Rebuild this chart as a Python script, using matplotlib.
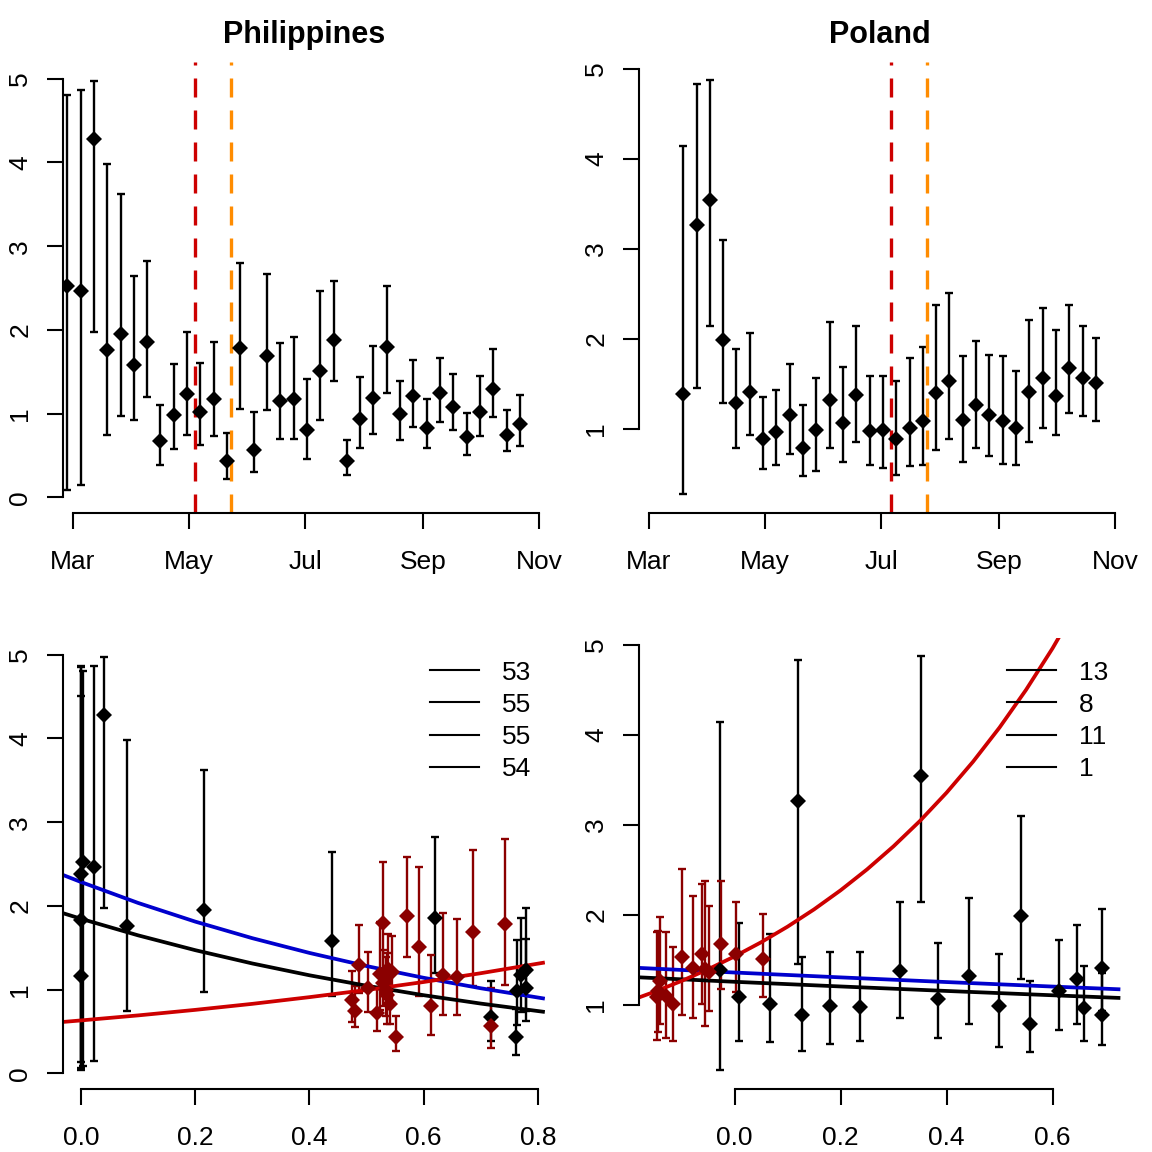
import numpy as np
import pandas as pd
import matplotlib
matplotlib.use("Agg")
import matplotlib.pyplot as plt
import matplotlib.dates as mdates
from matplotlib.lines import Line2D

plt.rcParams['font.family'] = ['Liberation Sans', 'DejaVu Sans']

# ---- Philippines: weekly estimates (first three weeks fall left of the window)
ph_weeks = pd.date_range("2020-02-06", periods=38, freq="7D")
ph_r = [1.16, 1.83, 2.38,
        2.53, 2.46, 4.28, 1.76, 1.95, 1.58, 1.86, 0.67, 0.98, 1.23,
        1.02, 1.17, 0.44, 1.78, 0.57, 1.69, 1.15, 1.17, 0.80, 1.51,
        1.88, 0.43, 0.94, 1.19, 1.80, 1.00, 1.21, 0.83, 1.25, 1.08,
        0.72, 1.02, 1.30, 0.75, 0.88]
ph_lo = [0.06, 0.14, 0.04,
         0.09, 0.15, 1.97, 0.75, 0.97, 0.92, 1.20, 0.39, 0.58, 0.75,
         0.63, 0.73, 0.22, 1.06, 0.30, 1.04, 0.70, 0.70, 0.46, 0.92,
         1.39, 0.27, 0.59, 0.76, 1.25, 0.68, 0.84, 0.59, 0.90, 0.80,
         0.51, 0.73, 0.96, 0.55, 0.62]
ph_hi = [4.85, 4.51, 4.87,
         4.80, 4.87, 4.97, 3.98, 3.62, 2.65, 2.82, 1.10, 1.59, 1.97,
         1.61, 1.86, 0.77, 2.80, 1.02, 2.67, 1.84, 1.91, 1.41, 2.47,
         2.58, 0.69, 1.44, 1.81, 2.53, 1.39, 1.64, 1.17, 1.67, 1.47,
         1.01, 1.45, 1.77, 1.04, 1.22]
ph_mob = [0.0, 0.0, 0.0,
          0.004, 0.022, 0.041, 0.080, 0.215, 0.439, 0.620, 0.717, 0.764, 0.779,
          0.779, 0.771, 0.762, 0.742, 0.717, 0.687, 0.658, 0.634, 0.613, 0.592,
          0.570, 0.551, 0.536, 0.523, 0.529, 0.534, 0.544, 0.541, 0.538, 0.528,
          0.519, 0.502, 0.487, 0.480, 0.474]
ph_red_date = "2020-05-04"
ph_orange_date = "2020-05-23"
ph_legend = ["53", "55", "55", "54"]

ph_fit_x = [-0.033, 0.0, 0.1, 0.2, 0.3, 0.4, 0.5, 0.6, 0.7, 0.812]
ph_fit_black = [1.917, 1.847, 1.649, 1.472, 1.313, 1.172, 1.047, 0.934, 0.834, 0.734]
ph_fit_blue = [2.374, 2.286, 2.036, 1.813, 1.615, 1.439, 1.282, 1.142, 1.017, 0.893]
ph_fit_red = [0.614, 0.633, 0.693, 0.759, 0.831, 0.911, 0.997, 1.092, 1.197, 1.325]

# ---- Poland
pl_weeks = pd.date_range("2020-03-19", periods=32, freq="7D")
pl_r = [1.38, 3.26, 3.54, 1.99, 1.29, 1.41, 0.89, 0.96, 1.15, 0.79, 0.98,
        1.32, 1.06, 1.37, 0.97, 0.98, 0.88, 1.01, 1.09, 1.40, 1.53, 1.10,
        1.26, 1.15, 1.09, 1.01, 1.41, 1.56, 1.36, 1.67, 1.56, 1.51]
pl_lo = [0.27, 1.45, 2.14, 1.29, 0.79, 0.93, 0.55, 0.59, 0.72, 0.47, 0.53,
         0.79, 0.63, 0.85, 0.59, 0.56, 0.48, 0.58, 0.59, 0.76, 0.89, 0.63,
         0.79, 0.69, 0.61, 0.59, 0.85, 1.01, 0.93, 1.17, 1.14, 1.09]
pl_hi = [4.14, 4.83, 4.88, 3.10, 1.89, 2.06, 1.35, 1.43, 1.72, 1.26, 1.56,
         2.19, 1.69, 2.14, 1.58, 1.59, 1.53, 1.78, 1.91, 2.37, 2.51, 1.81,
         1.98, 1.82, 1.81, 1.64, 2.21, 2.34, 2.10, 2.38, 2.14, 2.01]
pl_mob = [-0.027, 0.120, 0.351, 0.541, 0.646, 0.694, 0.694, 0.660, 0.613, 0.558,
          0.499, 0.442, 0.383, 0.312, 0.236, 0.180, 0.128, 0.067, 0.009, -0.055,
          -0.099, -0.130, -0.141, -0.145, -0.147, -0.117, -0.078, -0.061, -0.048,
          -0.025, 0.002, 0.053]
pl_red_date = "2020-07-06"
pl_orange_date = "2020-07-25"
pl_legend = ["13", "8", "11", "1"]

pl_fit_x = [-0.182, 0.0, 0.2, 0.4, 0.6, 0.728]
pl_fit_black = [1.304, 1.254, 1.202, 1.152, 1.104, 1.074]
pl_fit_blue = [1.409, 1.357, 1.303, 1.251, 1.201, 1.170]
pl_red_x = [-0.182, -0.15, -0.10, -0.05, 0.0, 0.05, 0.10, 0.15, 0.20, 0.25,
            0.30, 0.35, 0.40, 0.45, 0.50, 0.55, 0.60, 0.65]
pl_fit_red = [1.076, 1.145, 1.263, 1.393, 1.536, 1.693, 1.867, 2.059, 2.271,
              2.504, 2.761, 3.044, 3.357, 3.702, 4.082, 4.501, 4.963, 5.473]

month_ticks = ["2020-03-01", "2020-05-01", "2020-07-01", "2020-09-01", "2020-11-01"]
month_labels = ["Mar", "May", "Jul", "Sep", "Nov"]

BLACK = "black"
DARKRED = "#8B0000"
RED = "#CD0000"
ORANGE = "#FF8C00"
BLUE = "#0000CD"

W = 1152.0
fig = plt.figure(figsize=(11.52, 11.52), dpi=100)


def place(l, t, r, b):
    return fig.add_axes([l / W, 1 - b / W, (r - l) / W, (b - t) / W])


def style(ax, yticks, xbounds):
    for s in ["top", "right"]:
        ax.spines[s].set_visible(False)
    for s in ["left", "bottom"]:
        ax.spines[s].set_linewidth(1.5)
    ax.spines["left"].set_bounds(yticks[0], yticks[-1])
    ax.spines["bottom"].set_bounds(*xbounds)
    ax.set_yticks(yticks, [str(v) for v in yticks], rotation=90, va="center")
    ax.tick_params(axis="both", direction="out", length=11.5, width=1.5,
                   labelsize=19)
    ax.tick_params(axis="y", pad=10.4)
    ax.tick_params(axis="x", pad=15.5)


def errs(ax, x, r, lo, hi, color):
    r = np.asarray(r)
    yerr = [r - np.asarray(lo), np.asarray(hi) - r]
    line, caps, bars = ax.errorbar(x, r, yerr=yerr, fmt="D", color=color,
                                   ms=8.2, elinewidth=1.7, capsize=2.7,
                                   capthick=1.7)
    line.set_markeredgewidth(0)


def time_panel(ax, weeks, r, lo, hi, red_date, orange_date, title, ylim, yticks):
    errs(ax, weeks, r, lo, hi, BLACK)
    ax.axvline(pd.Timestamp(red_date), color=RED, lw=2.4,
               linestyle=(0, (5.7, 3.9)))
    ax.axvline(pd.Timestamp(orange_date), color=ORANGE, lw=2.4,
               linestyle=(0, (5.7, 3.9)))
    t0 = pd.Timestamp("2020-03-01")
    ax.set_xlim(t0 - pd.Timedelta(days=5.42), t0 + pd.Timedelta(days=248.2))
    ax.set_ylim(*ylim)
    ticks = [pd.Timestamp(m) for m in month_ticks]
    style(ax, yticks, (mdates.date2num(ticks[0]), mdates.date2num(ticks[-1])))
    ax.set_xticks(ticks, month_labels)
    ax.set_title(title, fontsize=22, fontweight="bold", pad=13.5)


def mob_panel(ax, weeks, r, lo, hi, mob, orange_date, fits, xlim, ylim,
              xticks, yticks, labels, leg_xy):
    r, lo, hi, mob = map(np.asarray, (r, lo, hi, mob))
    before = np.asarray(weeks) < pd.Timestamp(orange_date)
    errs(ax, mob[before], r[before], lo[before], hi[before], BLACK)
    errs(ax, mob[~before], r[~before], lo[~before], hi[~before], DARKRED)
    for fx, fy, c in fits:
        ax.plot(fx, fy, color=c, lw=2.7, solid_capstyle="butt")
    ax.set_xlim(*xlim)
    ax.set_ylim(*ylim)
    style(ax, yticks, (xticks[0], xticks[-1]))
    ax.set_xticks(xticks, [f"{v:.1f}" for v in xticks])
    handles = [Line2D([], [], color="black", lw=1.5) for _ in labels]
    ax.legend(handles, labels, loc="upper left", frameon=False, fontsize=19,
              bbox_to_anchor=(leg_xy[0] / W, 1 - leg_xy[1] / W),
              bbox_transform=fig.transFigure, borderpad=0, borderaxespad=0,
              handlelength=1.86, handletextpad=0.87, labelspacing=0.31)


ax1 = place(62.7, 62, 545, 512.5)
time_panel(ax1, ph_weeks, ph_r, ph_lo, ph_hi, ph_red_date, ph_orange_date,
           "Philippines", (-0.18, 5.20), [0, 1, 2, 3, 4, 5])

ax2 = place(638.7, 62, 1121, 512.5)
time_panel(ax2, pl_weeks, pl_r, pl_lo, pl_hi, pl_red_date, pl_orange_date,
           "Poland", (0.067, 5.078), [1, 2, 3, 4, 5])

ax3 = place(62.7, 638, 545, 1088.5)
mob_panel(ax3, ph_weeks, ph_r, ph_lo, ph_hi, ph_mob, ph_orange_date,
          [(ph_fit_x, ph_fit_black, BLACK), (ph_fit_x, ph_fit_blue, BLUE),
           (ph_fit_x, ph_fit_red, RED)],
          (-0.032, 0.8123), (-0.18, 5.20), [0.0, 0.2, 0.4, 0.6, 0.8],
          [0, 1, 2, 3, 4, 5], ph_legend, (430, 660.5))

ax4 = place(638.7, 638, 1121, 1088.5)
mob_panel(ax4, pl_weeks, pl_r, pl_lo, pl_hi, pl_mob, pl_orange_date,
          [(pl_fit_x, pl_fit_black, BLACK), (pl_fit_x, pl_fit_blue, BLUE),
           (pl_red_x, pl_fit_red, RED)],
          (-0.1808, 0.7292), (0.067, 5.078), [0.0, 0.2, 0.4, 0.6],
          [1, 2, 3, 4, 5], pl_legend, (1006.7, 660.5))

fig.savefig("out.png", dpi=100)
